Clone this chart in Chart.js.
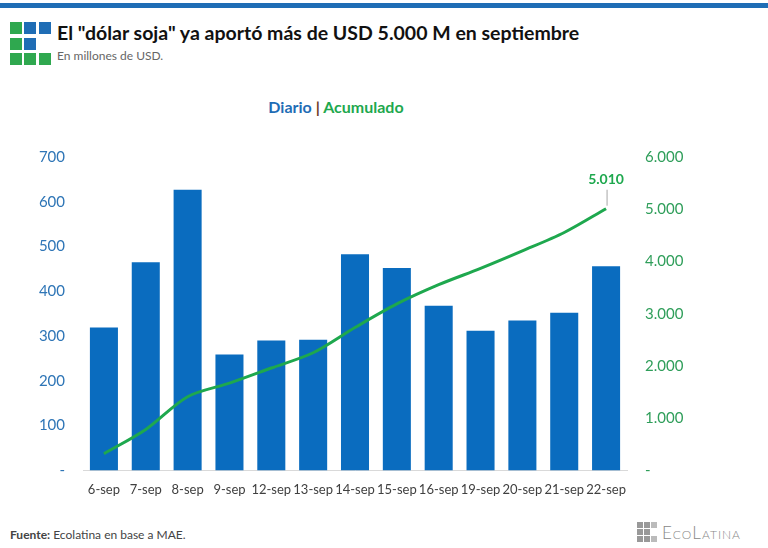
<!DOCTYPE html>
<html>
<head>
<meta charset="utf-8">
<script src="https://cdn.jsdelivr.net/npm/chart.js@4"></script>
<style>
  body { margin: 0; background: #fff; font-family: Lato, "Open Sans", sans-serif; }
  #page { position: relative; width: 768px; height: 548px; overflow: hidden; }
  .barra { position: absolute; left: 0; top: 3px; width: 768px; height: 5px; background: #1f6db5; }
  .cuadro { position: absolute; width: 12px; height: 12px; }
  .v { background: #2fa84f; }
  .a { background: #1f6db5; }
  #titulo { position: absolute; left: 57px; top: 21px; font-size: 19.5px; font-weight: 700; color: #111; white-space: nowrap; }
  #subtitulo { position: absolute; left: 57px; top: 48px; font-size: 12px; color: #666; }
  #leyenda { position: absolute; left: 0; width: 672px; top: 97px; text-align: center; font-size: 16px; font-weight: 700; }
  #fuente { position: absolute; left: 10px; top: 527px; font-size: 12px; color: #444; }
  #marca { position: absolute; left: 637px; top: 522px; }
  .gris { position: absolute; width: 6px; height: 6px; background: #999; }
  #marcaTxt { position: absolute; left: 662px; top: 522px; font-size: 17px; color: #888; font-variant: small-caps; letter-spacing: 1px; font-weight: 300; }
  #wrap { position: absolute; left: 0; top: 130px; width: 768px; height: 380px; }
</style>
</head>
<body>
<div id="page">
  <div class="barra"></div>
  <div class="cuadro v" style="left:10px;top:22px"></div>
  <div class="cuadro a" style="left:24px;top:22px"></div>
  <div class="cuadro a" style="left:39px;top:22px"></div>
  <div class="cuadro v" style="left:10px;top:38px"></div>
  <div class="cuadro a" style="left:24px;top:38px"></div>
  <div class="cuadro v" style="left:10px;top:53px"></div>
  <div class="cuadro v" style="left:24px;top:53px"></div>
  <div class="cuadro v" style="left:39px;top:53px"></div>
  <div id="titulo">El "dólar soja" ya aportó más de USD 5.000 M en septiembre</div>
  <div id="subtitulo">En millones de USD.</div>
  <div id="leyenda"><span style="color:#1f6db5">Diario</span> <span style="color:#6b3a26">|</span> <span style="color:#1ea84e">Acumulado</span></div>
  <div id="wrap"><canvas id="grafico"></canvas></div>
  <div id="fuente"><b>Fuente:</b> Ecolatina en base a MAE.</div>
  <div id="marca">
    <div class="gris" style="left:0;top:0"></div><div class="gris" style="left:7px;top:0"></div><div class="gris" style="left:14px;top:0;background:#bbb"></div>
    <div class="gris" style="left:0;top:7px"></div><div class="gris" style="left:7px;top:7px"></div>
    <div class="gris" style="left:0;top:14px"></div><div class="gris" style="left:7px;top:14px"></div><div class="gris" style="left:14px;top:14px;background:#bbb"></div>
  </div>
  <div id="marcaTxt">EcoLatina</div>
</div>
<script>
const fechas = ['6-sep', '7-sep', '8-sep', '9-sep', '12-sep', '13-sep', '14-sep', '15-sep', '16-sep', '19-sep', '20-sep', '21-sep', '22-sep'];
const diario = [319, 465, 627, 259, 290, 292, 483, 452, 368, 312, 335, 352, 456];
const acumulado = [319, 784, 1411, 1670, 1960, 2252, 2735, 3187, 3555, 3867, 4202, 4554, 5010];
const etiquetaFinal = '5.010';

function formatoMiles(v) {
  if (v === 0) return '-';
  return v.toLocaleString('de-DE');
}

// etiqueta del último valor acumulado con su línea guía
const etiquetaPlugin = {
  id: 'etiquetaFinal',
  afterDatasetsDraw(chart) {
    const meta = chart.getDatasetMeta(1);
    const p = meta.data[meta.data.length - 1];
    const ctx = chart.ctx;
    ctx.save();
    ctx.strokeStyle = '#a6a6a6';
    ctx.lineWidth = 1;
    ctx.beginPath();
    ctx.moveTo(p.x + 1, p.y - 3);
    ctx.lineTo(p.x + 1, p.y - 19);
    ctx.stroke();
    ctx.fillStyle = '#1ea84e';
    ctx.font = 'bold 14px Lato, sans-serif';
    ctx.textAlign = 'center';
    ctx.textBaseline = 'bottom';
    ctx.fillText(etiquetaFinal, p.x, p.y - 22);
    ctx.restore();
  }
};

const ctx = document.getElementById('grafico').getContext('2d');
new Chart(ctx, {
  type: 'bar',
  data: {
    labels: fechas,
    datasets: [{
      label: 'Diario',
      data: diario,
      yAxisID: 'yIzq',
      backgroundColor: '#0a6cbf',
      categoryPercentage: 1,
      barPercentage: 0.67,
      order: 1
    }, {
      type: 'line',
      label: 'Acumulado',
      data: acumulado,
      yAxisID: 'yDer',
      borderColor: '#1ea84e',
      borderWidth: 3,
      pointRadius: 0,
      tension: 0.3,
      order: 0
    }]
  },
  options: {
    responsive: true,
    maintainAspectRatio: false,
    animation: false,
    layout: { padding: { top: 21, bottom: 0 } },
    plugins: {
      legend: { display: false },
      tooltip: { enabled: false }
    },
    scales: {
      x: {
        grid: { display: false, drawTicks: false },
        border: { color: '#d9d9d9' },
        ticks: { color: '#404040', font: { family: 'Lato', size: 13 }, padding: 12, maxRotation: 0, autoSkip: false }
      },
      yIzq: {
        position: 'left',
        min: 0, max: 700,
        grid: { display: false, drawTicks: false },
        border: { display: false },
        ticks: { stepSize: 100, color: '#2e75b6', font: { family: 'Lato', size: 15 }, padding: 18, callback: formatoMiles },
        afterFit(s) { s.width = 83; }
      },
      yDer: {
        position: 'right',
        min: 0, max: 6000,
        grid: { display: false, drawTicks: false },
        border: { display: false },
        ticks: { stepSize: 1000, color: '#2f9e5a', font: { family: 'Lato', size: 15 }, padding: 18, callback: formatoMiles },
        afterFit(s) { s.width = 141; }
      }
    }
  },
  plugins: [etiquetaPlugin]
});
</script>
</body>
</html>
